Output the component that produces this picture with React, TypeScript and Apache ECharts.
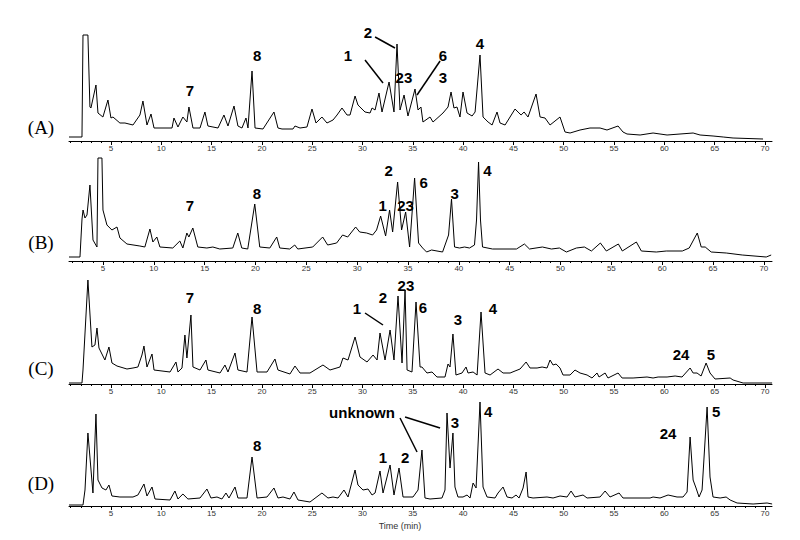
import React, { useEffect, useRef } from "react";
import * as echarts from "echarts";

// Retention time (min) / detector response (arbitrary units)
const traceA: [number, number][] = [[0.83,4],[2.12,4],[2.22,106],[2.71,106],[2.91,34],[3.01,33],[3.51,56],[3.71,28],[4.20,24],[4.70,41],[5.00,23],[5.20,24],[5.89,18],[6.39,18],[7.19,16],[7.88,26],[8.18,40],[8.58,16],[8.98,27],[9.28,13],[11.07,13],[11.26,23],[11.66,14],[12.15,24],[12.55,19],[12.75,34],[13.15,13],[13.85,13],[14.34,29],[14.64,15],[15.14,14],[15.64,13],[16.23,26],[16.63,15],[17.23,35],[17.62,15],[18.02,13],[18.42,23],[18.62,13],[19.02,70],[19.32,13],[20.11,12],[21.20,29],[21.60,13],[22.00,12],[23.09,12],[23.29,15],[23.79,13],[24.48,14],[24.98,32],[25.38,18],[25.97,24],[26.47,18],[27.07,21],[27.47,26],[27.96,33],[28.46,26],[28.76,26],[29.26,45],[29.55,36],[29.75,34],[30.25,29],[30.75,28],[30.95,33],[31.25,31],[31.64,48],[31.94,29],[32.64,59],[33.13,29],[33.43,97],[33.73,31],[34.13,46],[34.52,25],[35.22,52],[35.52,31],[35.81,34],[36.01,19],[36.71,24],[37.01,19],[38.00,28],[38.50,34],[38.80,49],[39.09,33],[39.39,34],[39.69,24],[39.99,49],[40.39,28],[40.89,25],[41.19,29],[41.68,86],[41.98,24],[42.48,19],[42.88,16],[43.37,29],[43.67,18],[44.17,16],[45.16,32],[45.46,29],[45.76,26],[46.06,29],[46.45,24],[47.25,47],[47.65,24],[48.14,23],[48.64,16],[49.63,24],[50.13,9],[50.63,8],[51.62,11],[52.61,13],[53.61,13],[54.30,11],[55.40,15],[55.89,9],[56.29,7],[57.59,6],[58.88,8],[60.27,6],[62.86,8],[63.55,6],[64.84,5],[65.85,4],[66.83,3],[69.81,2]];

const traceB: [number, number][] = [[1.66,4],[2.74,4],[2.94,42],[3.04,51],[3.23,43],[3.43,46],[3.72,76],[4.02,21],[4.41,14],[4.51,103],[4.90,103],[5.00,51],[5.39,36],[5.88,31],[6.38,34],[6.67,23],[7.36,17],[8.63,15],[9.12,14],[9.62,32],[9.91,19],[10.30,24],[10.60,14],[11.87,13],[12.56,20],[12.86,13],[13.25,28],[13.45,24],[13.84,33],[14.33,14],[15.22,13],[15.81,14],[16.49,12],[17.77,13],[18.26,28],[18.65,13],[19.24,12],[19.93,57],[20.42,14],[21.41,13],[22.09,24],[22.39,13],[23.37,12],[23.86,16],[24.16,12],[25.63,14],[26.61,24],[27.10,16],[27.98,18],[28.57,26],[29.07,24],[29.85,34],[30.25,29],[30.93,28],[31.52,26],[31.91,31],[32.31,45],[32.80,25],[33.19,51],[33.49,29],[33.98,79],[34.37,31],[34.77,49],[35.16,14],[35.65,83],[36.04,18],[36.44,13],[36.83,9],[37.32,11],[38.40,9],[38.99,26],[39.28,62],[39.58,14],[40.07,13],[40.56,14],[41.05,13],[41.54,16],[41.74,41],[41.94,99],[42.13,41],[42.33,14],[43.31,12],[45.67,12],[46.45,17],[46.95,12],[48.22,14],[49.11,12],[49.89,13],[50.58,9],[51.56,13],[52.35,14],[53.04,10],[53.92,18],[54.51,10],[55.69,17],[56.08,10],[57.46,19],[57.95,10],[59.42,9],[60.40,10],[61.98,10],[62.66,13],[63.45,28],[63.84,14],[64.23,14],[64.82,9],[66.30,8],[67.87,6],[70.23,4],[70.72,6]];

const traceC: [number, number][] = [[0.83,1],[2.12,1],[2.22,14],[2.71,104],[3.11,37],[3.41,39],[3.61,56],[3.81,36],[4.40,24],[4.80,37],[5.10,21],[5.60,18],[6.59,15],[7.19,16],[7.68,17],[8.08,29],[8.28,38],[8.58,17],[9.08,30],[9.28,14],[10.87,12],[11.46,22],[11.66,12],[12.06,16],[12.35,49],[12.55,26],[12.95,69],[13.15,17],[13.85,14],[14.44,24],[14.64,14],[15.84,11],[16.33,19],[16.63,12],[17.33,31],[17.62,14],[18.52,12],[19.02,67],[19.52,12],[20.51,12],[21.30,25],[21.60,14],[22.79,10],[23.29,18],[23.79,11],[24.78,11],[26.07,19],[26.77,14],[27.76,17],[28.06,26],[28.56,24],[29.26,47],[29.75,27],[30.45,22],[31.05,29],[31.45,24],[31.74,51],[32.24,24],[32.74,54],[33.13,24],[33.53,88],[33.93,21],[34.23,94],[34.43,14],[34.92,12],[35.32,82],[35.72,17],[35.91,17],[36.41,11],[36.91,12],[37.40,7],[38.20,7],[38.50,20],[38.70,17],[38.99,50],[39.29,9],[39.89,11],[40.29,17],[40.49,11],[40.99,12],[41.39,9],[41.78,72],[42.18,11],[42.68,9],[43.47,15],[43.97,11],[44.67,11],[45.16,13],[45.66,15],[46.26,22],[46.65,16],[47.35,16],[47.85,17],[48.34,16],[48.64,24],[48.94,19],[49.24,20],[49.63,16],[49.93,9],[50.63,9],[51.12,14],[51.62,11],[52.32,9],[52.81,6],[53.31,11],[53.51,7],[54.11,11],[54.40,6],[55.40,11],[55.80,6],[56.89,6],[58.28,7],[58.88,6],[59.38,7],[60.27,7],[61.07,8],[61.76,7],[62.56,16],[62.86,11],[63.25,11],[63.65,8],[64.15,21],[64.54,11],[65.04,5],[66.54,6],[66.83,4],[67.83,1],[70.71,1]];

const traceD: [number, number][] = [[0.83,1],[2.22,1],[2.42,16],[2.71,73],[3.21,13],[3.51,92],[3.71,26],[4.11,18],[4.50,16],[4.80,21],[5.10,10],[5.89,9],[7.19,9],[7.68,11],[8.28,22],[8.58,10],[9.08,19],[9.38,7],[10.87,6],[11.36,15],[11.66,7],[12.15,12],[12.65,7],[13.85,8],[14.54,17],[14.94,8],[15.54,9],[16.03,7],[16.43,13],[16.73,8],[17.33,19],[17.62,8],[18.52,8],[19.02,49],[19.52,8],[20.51,9],[21.20,18],[21.60,8],[22.10,9],[22.79,7],[23.19,14],[23.59,6],[24.78,4],[25.97,13],[26.57,8],[27.07,9],[27.57,8],[28.16,16],[28.56,9],[29.26,36],[29.55,21],[30.05,16],[30.55,17],[30.95,11],[31.25,13],[31.74,35],[32.04,13],[32.74,41],[33.13,11],[33.63,38],[34.03,9],[35.02,9],[35.52,16],[35.91,56],[36.21,8],[36.71,7],[37.90,8],[38.20,16],[38.40,93],[38.70,38],[38.99,73],[39.19,19],[39.49,9],[39.99,9],[40.39,11],[40.69,8],[40.99,23],[41.29,18],[41.68,104],[41.98,19],[42.38,9],[43.17,8],[43.47,13],[43.97,19],[44.37,9],[44.86,8],[45.26,11],[45.56,8],[45.96,18],[46.26,34],[46.45,9],[46.95,8],[48.34,9],[48.94,8],[49.63,10],[50.33,9],[50.73,15],[51.12,9],[51.92,11],[52.32,8],[53.61,9],[54.11,15],[54.60,9],[55.50,13],[55.89,8],[58.58,8],[58.88,9],[59.57,8],[60.37,11],[61.26,9],[61.86,9],[62.26,14],[62.56,69],[62.86,26],[63.15,18],[63.45,9],[63.75,16],[64.25,99],[64.54,29],[64.84,9],[65.54,8],[66.14,9],[66.54,6],[67.23,3],[68.82,2],[70.21,3],[70.71,2]];

// Peak annotations: [text, time, response]
const labelsA: [string, number, number][] = [["7",12.85,51],["8",19.52,86],["1",28.56,86],["2",30.55,109],["23",34.12,64],["6",38.0,86],["3",38.0,64],["4",41.68,98]];
const labelsB: [string, number, number][] = [["7",13.55,56],["8",20.13,68],["1",32.5,56],["2",33.09,91],["23",34.76,56],["6",36.53,79],["3",39.58,68],["4",42.82,91]];
const labelsC: [string, number, number][] = [["7",12.85,87],["8",19.52,76],["1",29.45,76],["2",32.04,87],["23",34.32,99],["6",36.01,77],["3",39.49,65],["4",42.97,76],["24",61.66,30],["5",64.64,30]];
const labelsD: [string, number, number][] = [["8",19.52,61],["unknown",29.95,94],["1",32.04,49],["2",34.23,49],["3",39.19,84],["4",42.48,95],["24",60.37,73],["5",65.14,95]];

// Leader lines: [[t1, v1], [t2, v2]]
const leadersA: [number, number][][] = [[[30.25,81],[32.04,58]],[[31.25,104],[33.23,93]],[[37.71,80],[35.42,46]]];
const leadersB: [number, number][][] = [];
const leadersC: [number, number][][] = [[[30.25,71],[32.04,59]]];
const leadersD: [number, number][][] = [[[33.73,88],[35.42,54]],[[34.23,89],[37.71,78]]];

const panelNames = ["(A)", "(B)", "(C)", "(D)"];
const tickLabels = [5, 10, 15, 20, 25, 30, 35, 40, 45, 50, 55, 60, 65, 70];

const FONT = "Liberation Sans";

export default function App() {
  const ref = useRef<HTMLDivElement>(null);
  useEffect(() => {
    if (!ref.current) return;
    const chart = echarts.init(ref.current, undefined, { renderer: "svg" });

    const panels = [
      { trace: traceA, labels: labelsA, leaders: leadersA, top: 20, height: 121, min: 0.83, max: 70.7, labelY: 127 },
      { trace: traceB, labels: labelsB, leaders: leadersB, top: 150, height: 111, min: 1.66, max: 70.8, labelY: 242 },
      { trace: traceC, labels: labelsC, leaders: leadersC, top: 270, height: 114, min: 0.83, max: 70.7, labelY: 368 },
      { trace: traceD, labels: labelsD, leaders: leadersD, top: 395, height: 111, min: 0.83, max: 70.7, labelY: 483 },
    ];

    const grids: any[] = [];
    const xAxes: any[] = [];
    const yAxes: any[] = [];
    const series: any[] = [];

    panels.forEach((p, i) => {
      grids.push({ left: 69, right: 28, top: p.top, height: p.height });
      const minor: number[] = [];
      for (let k = Math.ceil(p.min); k <= Math.floor(p.max); k++) if (k % 5 !== 0) minor.push(k);
      xAxes.push({
        gridIndex: i, type: "value", min: p.min, max: p.max, position: "bottom",
        axisLine: { onZero: false, lineStyle: { color: "#000", width: 1 } },
        axisTick: { customValues: tickLabels, length: 4, lineStyle: { color: "#000", width: 1 } },
        axisLabel: { customValues: tickLabels, fontSize: 8, color: "#333", margin: 3, fontFamily: FONT },
        splitLine: { show: false },
      });
      xAxes.push({
        gridIndex: i, type: "value", min: p.min, max: p.max, position: "bottom",
        axisLine: { show: false, onZero: false },
        axisTick: { customValues: minor, length: 2, lineStyle: { color: "#000", width: 1 } },
        axisLabel: { show: false },
        splitLine: { show: false },
      });
      yAxes.push({ gridIndex: i, type: "value", min: 0, max: p.height, show: false });
      series.push({
        type: "line",
        xAxisIndex: 2 * i,
        yAxisIndex: i,
        data: p.trace,
        symbol: "none",
        showSymbol: false,
        silent: true,
        lineStyle: { color: "#000", width: 1 },
        markPoint: {
          symbol: "circle",
          symbolSize: 1,
          silent: true,
          itemStyle: { color: "rgba(0,0,0,0)" },
          label: {
            show: true, position: "inside", formatter: "{b}", color: "#000",
            fontSize: 15, fontWeight: "bold", fontFamily: FONT,
          },
          data: p.labels.map(([name, t, v]) => ({ name, coord: [t, v] })),
        },
        markLine: {
          symbol: ["none", "none"],
          silent: true,
          label: { show: false },
          emphasis: { disabled: true },
          lineStyle: { color: "#000", width: 1.5, type: "solid" },
          data: p.leaders.map(([a, b]) => [{ coord: a }, { coord: b }]),
        },
      });
    });

    const graphics: any[] = panels.map((p, i) => ({
      type: "text",
      x: 41,
      y: p.labelY,
      style: {
        text: panelNames[i], font: '19px "Liberation Serif"', fill: "#000",
        align: "center", verticalAlign: "middle",
      },
    }));
    graphics.push({
      type: "text", x: 400, y: 526,
      style: { text: "Time (min)", font: `9px "${FONT}"`, fill: "#333", align: "center", verticalAlign: "middle" },
    });

    chart.setOption({
      animation: false,
      backgroundColor: "#fff",
      grid: grids,
      xAxis: xAxes,
      yAxis: yAxes,
      series,
      graphic: graphics,
    });
    return () => chart.dispose();
  }, []);
  return <div ref={ref} style={{ position: "fixed", left: 0, top: 0, width: 800, height: 540, background: "#fff" }} />;
}
